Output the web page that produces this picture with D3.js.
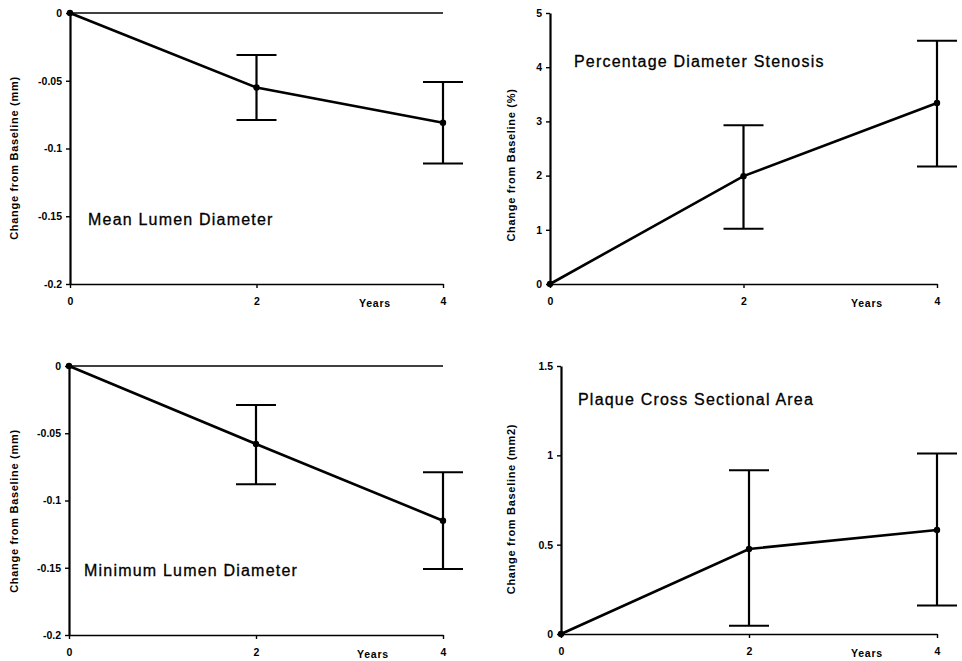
<!DOCTYPE html>
<html><head><meta charset="utf-8">
<script src="https://cdn.jsdelivr.net/npm/d3@7"></script>
<style>
body{margin:0;background:#fff;}
svg{display:block;}
text{font-family:"Liberation Sans",Arial,sans-serif;fill:#000;}
</style></head>
<body><svg id="c" width="962" height="661"></svg>
<script>
// ---------- data ----------
const years = [0, 2, 4];
const xTickLabels = ["0", "2", "4"];

const titles = ["Mean Lumen Diameter", "Percentage Diameter Stenosis", "Minimum Lumen Diameter", "Plaque Cross Sectional Area"];
const yTitles = ["Change from Baseline (mm)", "Change from Baseline (%)", "Change from Baseline (mm)", "Change from Baseline (mm2)"];

const meanLD = [0, -0.055, -0.081];
const meanLDLow = [0, -0.079, -0.111];
const meanLDHigh = [0, -0.031, -0.051];

const pctDS = [0, 1.99, 3.34];
const pctDSLow = [0, 1.02, 2.17];
const pctDSHigh = [0, 2.93, 4.49];

const minLD = [0, -0.058, -0.115];
const minLDLow = [0, -0.088, -0.151];
const minLDHigh = [0, -0.029, -0.079];

const plaque = [0, 0.476, 0.582];
const plaqueLow = [0, 0.046, 0.16];
const plaqueHigh = [0, 0.917, 1.01];

const yTicksMM = [0, -0.05, -0.1, -0.15, -0.2];
const yTickLabelsMM = ["0", "-0.05", "-0.1", "-0.15", "-0.2"];
const yTicksPct = [0, 1, 2, 3, 4, 5];
const yTickLabelsPct = ["0", "1", "2", "3", "4", "5"];
const yTicksArea = [0, 0.5, 1, 1.5];
const yTickLabelsArea = ["0", "0.5", "1", "1.5"];

// ---------- layout ----------
const panels = [
  {x0:70, x1:443, yTop:13, yBot:284, dom:[-0.2,0], v:meanLD, lo:meanLDLow, hi:meanLDHigh, ticks:yTicksMM, tl:yTickLabelsMM, zeroLine:true,
   title:[88,225], ytx:14, yty:158, yearsX:375},
  {x0:550, x1:937, yTop:13, yBot:284, dom:[0,5], v:pctDS, lo:pctDSLow, hi:pctDSHigh, ticks:yTicksPct, tl:yTickLabelsPct, zeroLine:false,
   title:[574,67], ytx:511, yty:165, yearsX:867},
  {x0:69, x1:443, yTop:366, yBot:635, dom:[-0.2,0], v:minLD, lo:minLDLow, hi:minLDHigh, ticks:yTicksMM, tl:yTickLabelsMM, zeroLine:true,
   title:[84,576], ytx:14, yty:511, yearsX:373},
  {x0:561, x1:937, yTop:366, yBot:634, dom:[0,1.5], v:plaque, lo:plaqueLow, hi:plaqueHigh, ticks:yTicksArea, tl:yTickLabelsArea, zeroLine:false,
   title:[578,405], ytx:511, yty:509, yearsX:867}
];
panels.forEach((p,i)=>{p.title.push(titles[i]); p.yt = yTitles[i];});

const svg = d3.select("#c");

panels.forEach(p => {
  const g = svg.append("g");
  const x = d3.scaleLinear().domain([0,4]).range([p.x0, p.x1]);
  const y = d3.scaleLinear().domain(p.dom).range([p.yBot, p.yTop]);

  // x axis
  const xa = g.append("g").attr("transform", `translate(0,${p.yBot})`)
    .call(d3.axisBottom(x).tickValues(years).tickFormat((d,i)=>xTickLabels[i]).tickSize(4).tickPadding(10).tickSizeOuter(0));
  xa.select(".domain").attr("stroke-width", 1.6);
  xa.selectAll(".tick line").attr("stroke-width", 1.4);
  xa.selectAll("text").attr("font-size", 10.5).attr("font-weight", "bold").style("font-family", '"Liberation Sans",Arial,sans-serif');

  // y axis
  const ya = g.append("g").attr("transform", `translate(${p.x0},0)`)
    .call(d3.axisLeft(y).tickValues(p.ticks).tickFormat((d,i)=>p.tl[i]).tickSize(4).tickPadding(4).tickSizeOuter(0));
  ya.select(".domain").attr("stroke-width", 2.2);
  ya.selectAll(".tick line").attr("stroke-width", 1.4);
  ya.selectAll("text").attr("font-size", 10.5).attr("font-weight", "bold").style("font-family", '"Liberation Sans",Arial,sans-serif');

  // zero reference line
  if (p.zeroLine) {
    g.append("line").attr("x1", x(0)).attr("x2", x(4)).attr("y1", y(0)).attr("y2", y(0))
      .attr("stroke", "#000").attr("stroke-width", 1.6);
  }

  // "Years"
  g.append("text").attr("x", p.yearsX).attr("y", p.yBot + 23).attr("text-anchor", "middle")
    .attr("font-size", 10.5).attr("font-weight", "bold").attr("letter-spacing", 0.8).text("Years");

  // error bars
  const cap = 20;
  years.forEach((yr, i) => {
    if (i === 0) return;
    const cx = x(yr);
    g.append("line").attr("x1", cx).attr("x2", cx).attr("y1", y(p.lo[i])).attr("y2", y(p.hi[i]))
      .attr("stroke", "#000").attr("stroke-width", 2.2);
    [p.lo[i], p.hi[i]].forEach(v => {
      g.append("line").attr("x1", cx - cap).attr("x2", cx + cap).attr("y1", y(v)).attr("y2", y(v))
        .attr("stroke", "#000").attr("stroke-width", 2);
    });
  });

  // data line
  const line = d3.line().x((d,i)=>x(years[i])).y(d=>y(d));
  g.append("path").datum(p.v).attr("d", line).attr("fill", "none").attr("stroke", "#000").attr("stroke-width", 2.6);
  g.selectAll("circle.pt").data(p.v).join("circle").attr("class","pt")
    .attr("cx", (d,i)=>x(years[i])).attr("cy", d=>y(d)).attr("r", 3.2).attr("fill", "#000");

  // panel title
  g.append("text").attr("x", p.title[0]).attr("y", p.title[1]).attr("font-size", 16).attr("letter-spacing", 1.2)
    .attr("stroke", "#000").attr("stroke-width", 0.3).text(p.title[2]);

  // y title
  g.append("text").attr("transform", `translate(${p.ytx},${p.yty}) rotate(-90)`).attr("text-anchor", "middle")
    .attr("dy", "0.35em").attr("font-size", 11).attr("font-weight", "bold").attr("letter-spacing", 0.7).text(p.yt);
});
</script></body></html>
